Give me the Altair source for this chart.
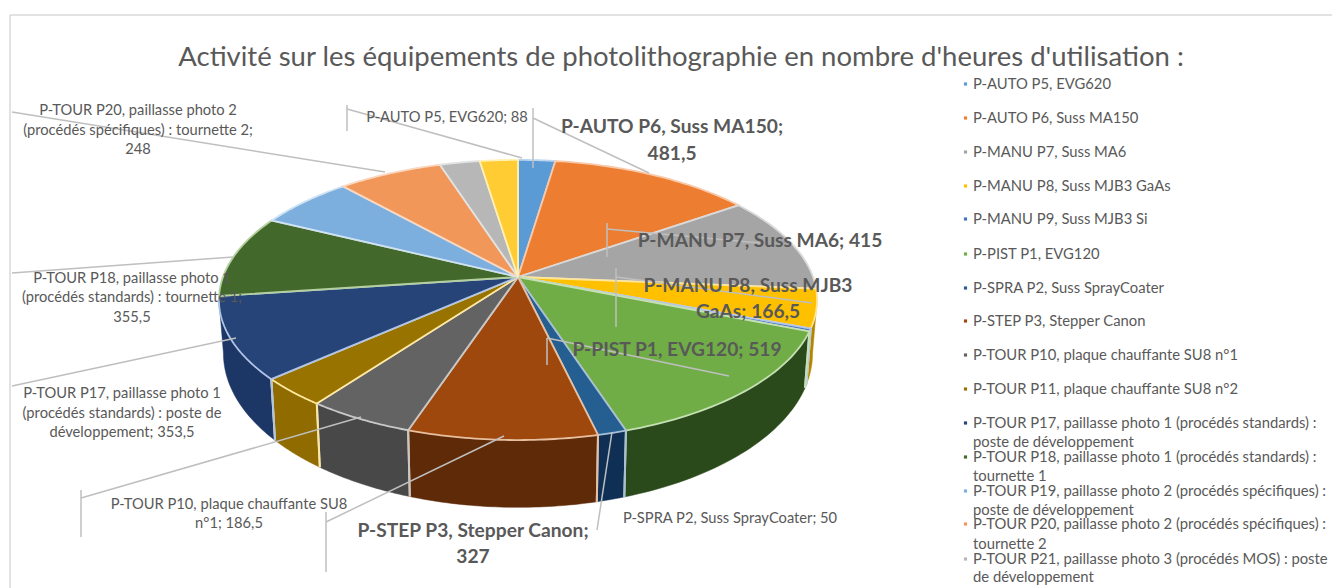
import numpy as np
import pandas as pd
import altair as alt

TITLE = "Activité sur les équipements de photolithographie en nombre d'heures d'utilisation :"
names = ["P-AUTO P5, EVG620", "P-AUTO P6, Suss MA150", "P-MANU P7, Suss MA6", "P-MANU P8, Suss MJB3 GaAs",
         "P-MANU P9, Suss MJB3 Si", "P-PIST P1, EVG120", "P-SPRA P2, Suss SprayCoater", "P-STEP P3, Stepper Canon",
         "P-TOUR P10, plaque chauffante SU8 n°1", "P-TOUR P11, plaque chauffante SU8 n°2",
         "P-TOUR P17, paillasse photo 1 (procédés standards) : poste de développement",
         "P-TOUR P18, paillasse photo 1 (procédés standards) : tournette 1",
         "P-TOUR P19, paillasse photo 2 (procédés spécifiques) : poste de développement",
         "P-TOUR P20, paillasse photo 2 (procédés spécifiques) : tournette 2",
         "P-TOUR P21, paillasse photo 3 (procédés MOS) : poste de développement",
         "P-TOUR P22"]
values = [88, 481.5, 415, 166.5, 12, 519, 50, 327, 186.5, 123, 353.5, 355.5, 227, 248, 95, 90]
top_colors = ["#5B9BD5", "#ED7D31", "#A5A5A5", "#FFC000", "#4472C4", "#70AD47", "#255E91", "#9E480E",
              "#636363", "#997300", "#264478", "#43682B", "#7CAFDD", "#F1975A", "#B7B7B7", "#FFCD33"]
edge_colors = ["#BBD6EE", "#F8C9A8", "#D9D9D9", "#FFE699", "#B4C6E7", "#C5E0B3", "#A8BFD6", "#E8C0A0",
               "#C8C8C8", "#FFE9A0", "#B0C4E6", "#B5D0A0", "#CFE2F3", "#FAD7BF", "#E2E2E2", "#FFF0B3"]
wall_colors = ["#3A6A96", "#A55722", "#737373", "#B38600", "#2F5089", "#2B4A1C", "#0F2F55", "#5E2A08",
               "#484848", "#8F6B00", "#1C3766", "#2D4A1C", "#5680A0", "#A86A3F", "#808080", "#B38F24"]

# leader lines: [x1, y1, x2, y2] in picture coordinates
leaders = [
    (12, 112, 385, 172), (12, 273, 233, 257), (12, 386, 236, 338),
    (81, 490, 81, 537), (81, 498, 361, 417),
    (326, 512, 326, 572), (326, 522, 504, 436),
    (597, 530, 612, 432),
    (547, 338, 547, 365), (547, 338, 729, 376),
    (616, 268, 616, 327), (616, 277, 812, 303),
    (607, 223, 607, 257), (607, 229, 760, 243),
    (533, 108, 533, 168), (533, 118, 649, 173),
    (347, 105, 347, 131), (347, 109, 522, 158),
]
# data labels: text, centre x, centre y, bold
labels = [
    ("P-TOUR P20, paillasse photo 2", 138, 110, False),
    ("(procédés spécifiques) : tournette 2;", 138, 130, False),
    ("248", 138, 149, False),
    ("P-TOUR P18, paillasse photo 1", 132, 278, False),
    ("(procédés standards) : tournette 1;", 132, 297, False),
    ("355,5", 132, 317, False),
    ("P-TOUR P17, paillasse photo 1", 122, 393, False),
    ("(procédés standards) : poste de", 122, 413, False),
    ("développement; 353,5", 122, 432, False),
    ("P-TOUR P10, plaque chauffante SU8", 229, 504, False),
    ("n°1; 186,5", 229, 523, False),
    ("P-SPRA P2, Suss SprayCoater; 50", 730, 518, False),
    ("P-AUTO P5, EVG620; 88", 447, 117, False),
    ("P-STEP P3, Stepper Canon;", 473, 530, True),
    ("327", 473, 556, True),
    ("P-PIST P1, EVG120; 519", 677, 349, True),
    ("P-MANU P8, Suss MJB3", 748, 285, True),
    ("GaAs; 166,5", 748, 311, True),
    ("P-MANU P7, Suss MA6; 415", 760, 240, True),
    ("P-AUTO P6, Suss MA150;", 672, 126, True),
    ("481,5", 672, 153, True),
]
# legend rows: first line, second line
legend_lines = [
    ("P-AUTO P5, EVG620", 84), ("P-AUTO P6, Suss MA150", 118), ("P-MANU P7, Suss MA6", 152),
    ("P-MANU P8, Suss MJB3 GaAs", 186), ("P-MANU P9, Suss MJB3 Si", 219), ("P-PIST P1, EVG120", 254),
    ("P-SPRA P2, Suss SprayCoater", 288), ("P-STEP P3, Stepper Canon", 321),
    ("P-TOUR P10, plaque chauffante SU8 n°1", 355), ("P-TOUR P11, plaque chauffante SU8 n°2", 389),
    ("P-TOUR P17, paillasse photo 1 (procédés standards) :", 423), ("poste de développement", 442),
    ("P-TOUR P18, paillasse photo 1 (procédés standards) :", 457), ("tournette 1", 476),
    ("P-TOUR P19, paillasse photo 2 (procédés spécifiques) :", 491), ("poste de développement", 510),
    ("P-TOUR P20, paillasse photo 2 (procédés spécifiques) :", 524), ("tournette 2", 544),
    ("P-TOUR P21, paillasse photo 3 (procédés MOS) : poste", 559), ("de développement", 577),
]
legend_swatches = [(0, 84), (1, 118), (2, 152), (3, 186), (4, 219), (5, 254), (6, 288), (7, 321), (8, 355),
                   (9, 389), (10, 423), (11, 457), (12, 491), (13, 524), (14, 559)]

CX, CY, RX, RY, K = 518.0, 277.0, 295.0, 136.3, 0.164
DEPTH, YS, XS = 51.0, 1.10, 0.985
VIS_A, VIS_B = np.radians(99.4), np.radians(260.6)


def rim(theta):
    u, v = np.sin(theta), -np.cos(theta)
    w = 1 - K * v
    return CX + RX * u / w, CY + RY * v / w


def low(theta):
    x, y = rim(theta)
    return CX + (x - CX) * XS, CY + (y - CY) * YS + DEPTH


cum = np.concatenate([[0], np.cumsum(values)]) / np.sum(values) * 2 * np.pi
tops, walls, edges = [], [], []
for s, (a, b) in enumerate(zip(cum[:-1], cum[1:])):
    t = np.linspace(a, b, 40)
    xs, ys = rim(t)
    px = np.concatenate([[CX], xs, [CX]])
    py = np.concatenate([[CY], ys, [CY]])
    for i, (x, y) in enumerate(zip(px, py)):
        tops.append(dict(g=s, i=i, x=x, y=y, f=top_colors[s], e=edge_colors[s]))
    a2, b2 = max(a, VIS_A), min(b, VIS_B)
    if a2 < b2:
        t = np.linspace(a2, b2, 40)
        xs, ys = rim(t)
        lx, ly = low(t[::-1])
        for i, (x, y) in enumerate(zip(np.concatenate([xs, lx, xs[:1]]), np.concatenate([ys, ly, ys[:1]]))):
            walls.append(dict(g=s, i=i, x=x, y=y, f=wall_colors[s]))
        for th in (a2, b2):
            x, y = rim(th)
            lx1, ly1 = low(th)
            if VIS_A < th < VIS_B:
                edges.append(dict(x=x, y=y, x2=lx1, y2=ly1, e=edge_colors[s]))

XS_SCALE = alt.Scale(domain=[8, 1332], range=[0, 1324], nice=False, zero=False)
YS_SCALE = alt.Scale(domain=[8, 588], range=[0, 580], nice=False, zero=False)
X = alt.X("x:Q", scale=XS_SCALE, axis=None)
Y = alt.Y("y:Q", scale=YS_SCALE, axis=None)
FONT = "Lato"

wall_layer = alt.Chart(pd.DataFrame(walls)).mark_line(strokeWidth=0.5).encode(
    X, Y, order="i:Q", detail="g:N", fill=alt.Fill("f:N", scale=None), stroke=alt.Stroke("f:N", scale=None))
edge_layer = alt.Chart(pd.DataFrame(edges)).mark_rule(strokeWidth=2).encode(
    X, Y, x2="x2:Q", y2="y2:Q", color=alt.Color("e:N", scale=None))
top_layer = alt.Chart(pd.DataFrame(tops)).mark_line(strokeWidth=1.8).encode(
    X, Y, order="i:Q", detail="g:N", fill=alt.Fill("f:N", scale=None), stroke=alt.Stroke("e:N", scale=None))

frame = alt.Chart(pd.DataFrame([dict(x=10, y=15, x2=1332, y2=15), dict(x=10, y=15, x2=10, y2=588)])).mark_rule(
    color="#D9D9D9", strokeWidth=1.5).encode(X, Y, x2="x2:Q", y2="y2:Q")
leader_layer = alt.Chart(pd.DataFrame(leaders, columns=["x", "y", "x2", "y2"])).mark_rule(
    color="#BFBFBF", strokeWidth=1.5).encode(X, Y, x2="x2:Q", y2="y2:Q")

ldf = pd.DataFrame(labels, columns=["t", "x", "y", "b"])
label_reg = alt.Chart(ldf[~ldf.b]).mark_text(font=FONT, fontSize=14.7, color="#595959", baseline="middle", dy=1).encode(X, Y, text="t:N")
label_bold = alt.Chart(ldf[ldf.b]).mark_text(font=FONT, fontSize=19.2, fontWeight="bold", color="#595959", baseline="middle", dy=1).encode(X, Y, text="t:N")

title_layer = alt.Chart(pd.DataFrame([dict(t=TITLE, x=681, y=56)])).mark_text(
    font=FONT, fontSize=27.5, color="#595959", baseline="middle", dy=1.5).encode(X, Y, text="t:N")

leg_txt = pd.DataFrame(legend_lines, columns=["t", "y"]).assign(x=973)
leg_layer = alt.Chart(leg_txt).mark_text(font=FONT, fontSize=14.8, color="#595959", align="left", baseline="middle", dy=1).encode(X, Y, text="t:N")
leg_sw = pd.DataFrame([dict(x=965.5, y=y, f=top_colors[i]) for i, y in legend_swatches])
sw_layer = alt.Chart(leg_sw).mark_point(shape="square", filled=True, size=10, opacity=1).encode(X, Y, color=alt.Color("f:N", scale=None))

chart = alt.layer(
    frame, wall_layer, edge_layer, top_layer, leader_layer, label_reg, label_bold, title_layer, leg_layer, sw_layer
).properties(width=1324, height=580, padding=0, autosize=alt.AutoSizeParams(type="none"), background="white").configure_view(stroke=None)

chart.save("out.html", embed_options={"renderer": "svg", "actions": False})
